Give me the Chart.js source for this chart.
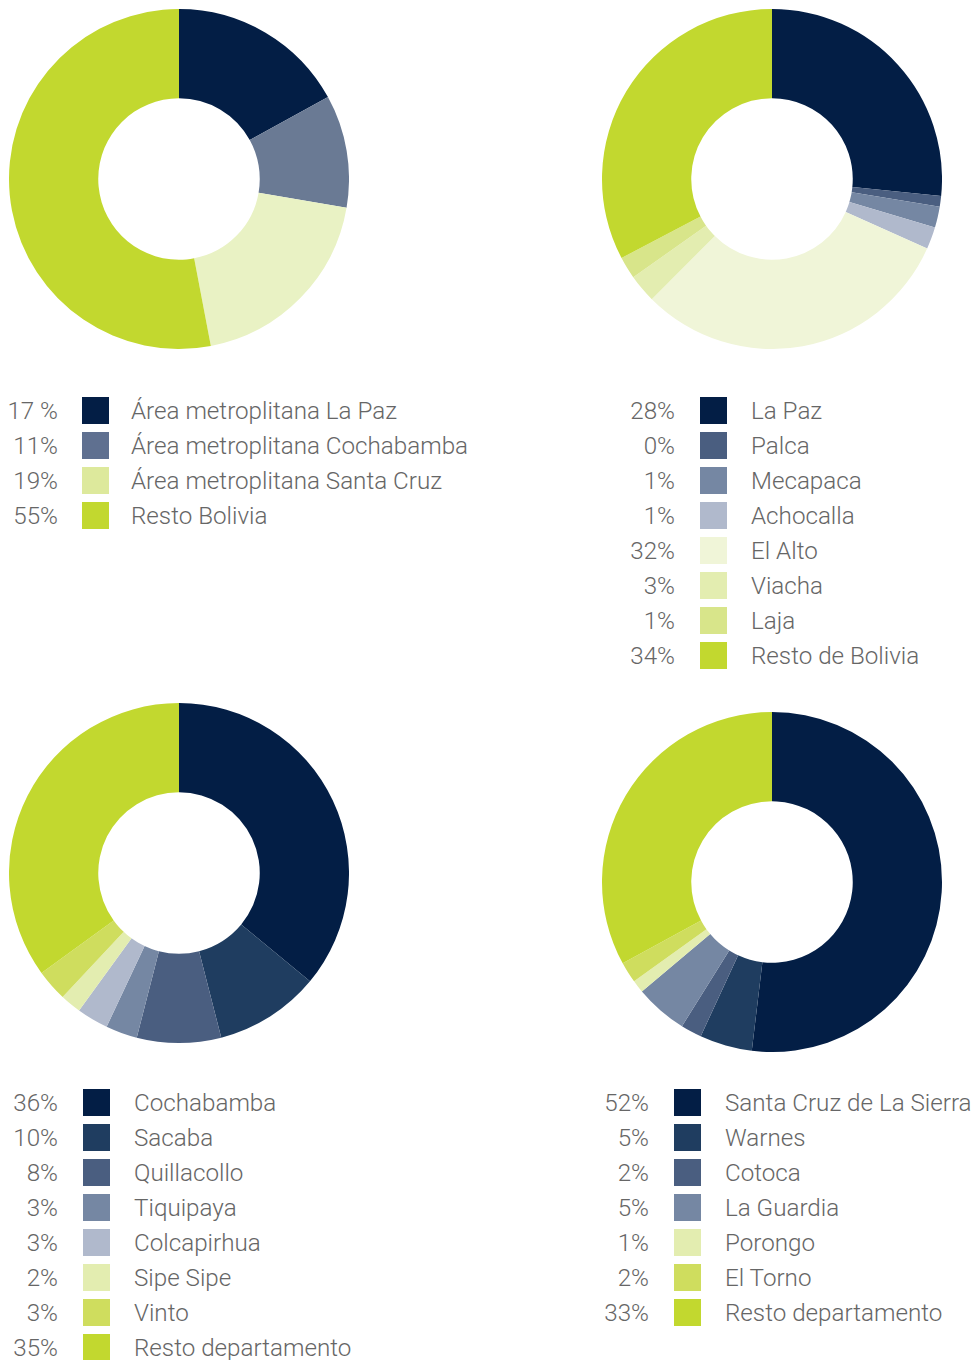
<!DOCTYPE html>
<html>
<head>
<meta charset="utf-8">
<script src="https://cdn.jsdelivr.net/npm/chart.js@4.4.1/dist/chart.umd.min.js"></script>
<style>
  html, body { margin: 0; padding: 0; background: #ffffff; }
  body { width: 977px; height: 1360px; position: relative; overflow: hidden;
         font-family: Roboto, "Open Sans", sans-serif; font-weight: 300; color: #666666; }
  canvas.donut { position: absolute; }
  .row { position: absolute; height: 27px; display: flex; align-items: center; white-space: nowrap; font-size: 24.2px; }
  .sw { position: absolute; width: 27px; height: 27px; }
</style>
</head>
<body>
<canvas id="c1" class="donut" width="340" height="340"></canvas>
<canvas id="c2" class="donut" width="340" height="340"></canvas>
<canvas id="c3" class="donut" width="340" height="340"></canvas>
<canvas id="c4" class="donut" width="340" height="340"></canvas>
<div id="legends"></div>
<script>
// ---- Chart 1: Bolivia ----
const labels1 = ["Área metroplitana La Paz", "Área metroplitana Cochabamba", "Área metroplitana Santa Cruz", "Resto Bolivia"];
const pct1 = ["17 %", "11%", "19%", "55%"];
const values1 = [17, 10.7, 19.3, 53];
const colors1 = ["#031e45", "#6a7a94", "#e9f2c4", "#c2d82f"];
const swatch1 = ["#031e45", "#5f7090", "#dde99c", "#c2d82f"];

// ---- Chart 2: La Paz ----
const labels2 = ["La Paz", "Palca", "Mecapaca", "Achocalla", "El Alto", "Viacha", "Laja", "Resto de Bolivia"];
const pct2 = ["28%", "0%", "1%", "1%", "32%", "3%", "1%", "34%"];
const values2 = [26.6, 1, 2, 2.1, 30.8, 2.7, 2.1, 32.7];
const colors2 = ["#031e45", "#4a5e80", "#7587a3", "#b0b9cc", "#f0f5d8", "#e3edb0", "#d8e58a", "#c2d82f"];

// ---- Chart 3: Cochabamba ----
const labels3 = ["Cochabamba", "Sacaba", "Quillacollo", "Tiquipaya", "Colcapirhua", "Sipe Sipe", "Vinto", "Resto departamento"];
const pct3 = ["36%", "10%", "8%", "3%", "3%", "2%", "3%", "35%"];
const values3 = [36, 10, 8, 3, 3, 2, 3, 35];
const colors3 = ["#031e45", "#1f3d60", "#4a5e80", "#7587a3", "#b0b9cc", "#e3edb0", "#cfdd5e", "#c2d82f"];

// ---- Chart 4: Santa Cruz ----
const labels4 = ["Santa Cruz de La Sierra", "Warnes", "Cotoca", "La Guardia", "Porongo", "El Torno", "Resto departamento"];
const pct4 = ["52%", "5%", "2%", "5%", "1%", "2%", "33%"];
const values4 = [52, 5, 2, 5, 1.2, 2, 33];
const colors4 = ["#031e45", "#1f3d60", "#4a5e80", "#7587a3", "#e3edb0", "#cfdd5e", "#c2d82f"];

const charts = [
  { id: "c1", left: 9,   top: 9,   labels: labels1, pct: pct1, values: values1, colors: colors1, swatch: swatch1,
    leg: { pctRight: 58, swX: 82, txtX: 131, y0: 410.5 } },
  { id: "c2", left: 602, top: 9,   labels: labels2, pct: pct2, values: values2, colors: colors2, swatch: colors2,
    leg: { pctRight: 675, swX: 700, txtX: 751, y0: 410.5 } },
  { id: "c3", left: 9,   top: 703, labels: labels3, pct: pct3, values: values3, colors: colors3, swatch: colors3,
    leg: { pctRight: 58, swX: 83, txtX: 134, y0: 1102.5 } },
  { id: "c4", left: 602, top: 712, labels: labels4, pct: pct4, values: values4, colors: colors4, swatch: colors4,
    leg: { pctRight: 649, swX: 674, txtX: 725, y0: 1102.5 } }
];
const rowStep = 35.05;

const legendHost = document.getElementById("legends");
charts.forEach(c => {
  const el = document.getElementById(c.id);
  el.style.left = c.left + "px";
  el.style.top = c.top + "px";
  new Chart(el, {
    type: "doughnut",
    data: {
      labels: c.labels,
      datasets: [{ data: c.values, backgroundColor: c.colors, borderWidth: 0, hoverOffset: 0 }]
    },
    options: {
      responsive: false,
      animation: false,
      cutout: "47.5%",
      layout: { padding: 0 },
      plugins: { legend: { display: false }, tooltip: { enabled: false } }
    }
  });
  c.labels.forEach((lab, i) => {
    const cy = c.leg.y0 + i * rowStep;
    const top = cy - 13.5;
    const p = document.createElement("div");
    p.className = "row";
    p.style.top = top + "px";
    p.style.left = "0px";
    p.style.width = (c.leg.pctRight) + "px";
    p.style.justifyContent = "flex-end";
    p.textContent = c.pct[i];
    legendHost.appendChild(p);
    const s = document.createElement("div");
    s.className = "sw";
    s.style.left = c.leg.swX + "px";
    s.style.top = top + "px";
    s.style.background = c.swatch[i];
    legendHost.appendChild(s);
    const t = document.createElement("div");
    t.className = "row";
    t.style.left = c.leg.txtX + "px";
    t.style.top = top + "px";
    t.textContent = lab;
    legendHost.appendChild(t);
  });
});
</script>
</body>
</html>
